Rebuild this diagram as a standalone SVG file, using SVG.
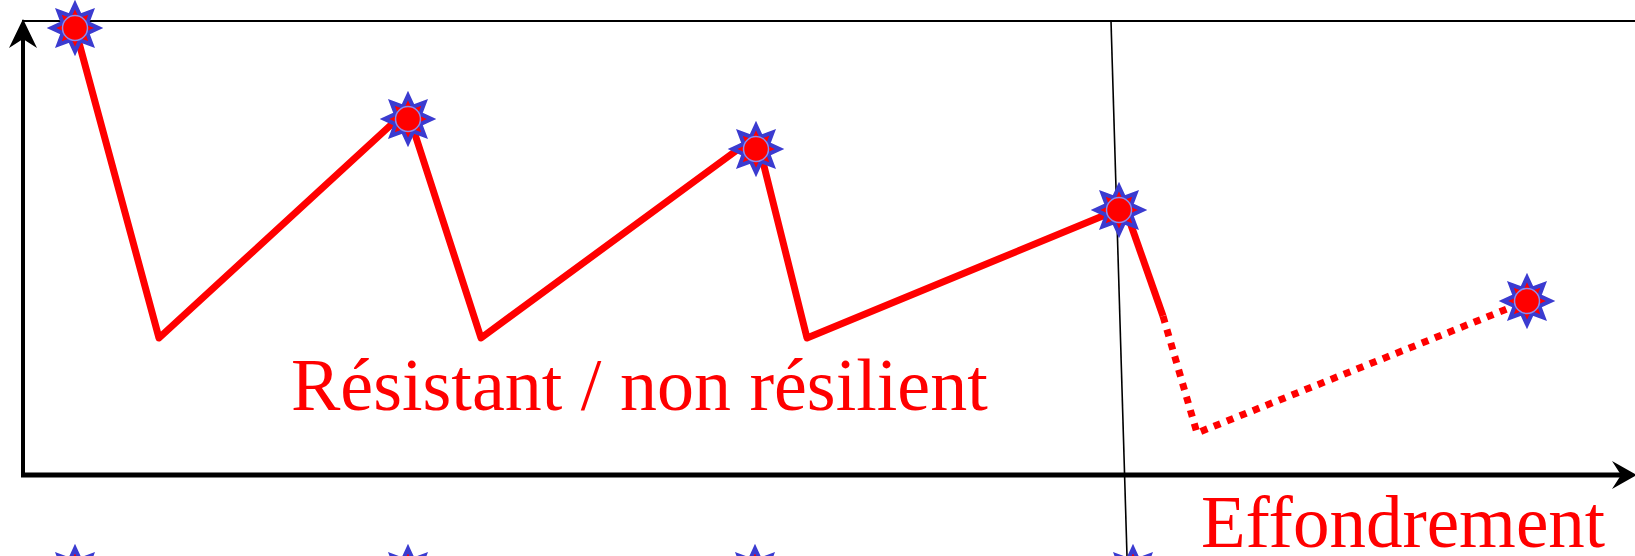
<svg xmlns="http://www.w3.org/2000/svg" xmlns:xlink="http://www.w3.org/1999/xlink" width="1635" height="556" viewBox="0 0 1635 556">
  <style>
    .axis { stroke: #000; fill: none; }
    .curve { stroke: #ff0000; stroke-width: 7; fill: none; stroke-linejoin: round; }
    .dotted { stroke: #ff0000; stroke-width: 7; fill: none; stroke-dasharray: 7 7; }
    .lbl { font-family: "Liberation Serif", "Times New Roman", serif; fill: #ff0000; }
  </style>
  <defs>
    <g id="star">
      <polygon points="0,-23.5 5.1,-12.3 16.6,-16.6 12.3,-5.1 23.5,0 12.3,5.1 16.6,16.6 5.1,12.3 0,23.5 -5.1,12.3 -16.6,16.6 -12.3,5.1 -23.5,0 -12.3,-5.1 -16.6,-16.6 -5.1,-12.3" fill="#ff0000" stroke="#3b3bd0" stroke-width="4" stroke-linejoin="miter"/>
      <circle r="12.5" fill="#ff0000" stroke="#8a8af0" stroke-width="1.5"/>
    </g>
  </defs>
  <rect width="1635" height="556" fill="#fff"/>

  <g id="axes">
    <line class="axis" x1="22" y1="21" x2="1635" y2="21" stroke-width="2"/>
    <line class="axis" x1="23" y1="32" x2="23" y2="477" stroke-width="4"/>
    <polygon points="23,19 37,48 23,39 9,48" fill="#000"/>
    <line class="axis" x1="21" y1="475" x2="1622" y2="475" stroke-width="5"/>
    <polygon points="1637,475 1612,461 1621,475 1612,489" fill="#000"/>
    <line class="axis" x1="1111" y1="21" x2="1127" y2="556" stroke-width="1.6"/>
  </g>

  <g id="connectors">
    <polyline class="curve" points="75,28 159,338 405,112"/>
    <polyline class="curve" points="411,122 481,338 748,142"/>
    <polyline class="curve" points="760,150 807,338 1110,213"/>
    <polyline class="curve" points="1125,208 1163,316"/>
    <polyline class="dotted" points="1163,316 1197,433 1527,301"/>
  </g>

  <g id="node-1"><use xlink:href="#star" href="#star" x="75" y="28"/></g>
  <g id="node-2"><use xlink:href="#star" href="#star" x="408" y="119"/></g>
  <g id="node-3"><use xlink:href="#star" href="#star" x="756" y="149"/></g>
  <g id="node-4"><use xlink:href="#star" href="#star" x="1119" y="210"/></g>
  <g id="node-5"><use xlink:href="#star" href="#star" x="1527" y="301"/></g>
  <g id="node-6"><use xlink:href="#star" href="#star" x="75" y="572"/></g>
  <g id="node-7"><use xlink:href="#star" href="#star" x="408" y="572"/></g>
  <g id="node-8"><use xlink:href="#star" href="#star" x="755" y="572"/></g>
  <g id="node-9"><use xlink:href="#star" href="#star" x="1133" y="572"/></g>

  <text class="lbl" x="291" y="410" font-size="74">Résistant / non résilient</text>
  <text class="lbl" x="1201" y="547" font-size="73">Effondrement</text>
</svg>
